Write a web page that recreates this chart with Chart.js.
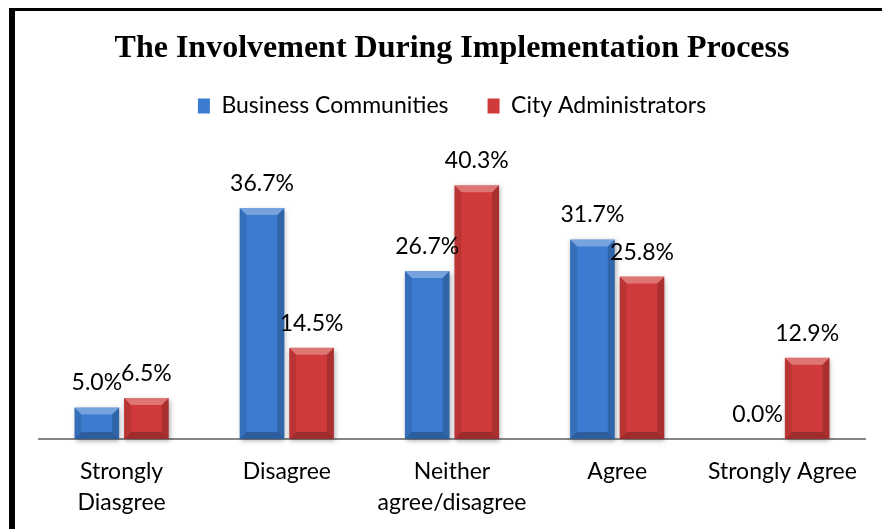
<!DOCTYPE html>
<html>
<head>
<meta charset="utf-8">
<script src="https://cdn.jsdelivr.net/npm/chart.js@4.4.1/dist/chart.umd.min.js"></script>
<style>
  html, body { margin: 0; padding: 0; background: #ffffff; }
  #wrap { width: 882px; height: 529px; position: relative; }
</style>
</head>
<body>
<div id="wrap"><canvas id="chart" width="882" height="529"></canvas></div>
<script>
// Survey answers: share of respondents (%) per answer category
const categories = [['Strongly', 'Diasgree'], 'Disagree', ['Neither', 'agree/disagree'], 'Agree', 'Strongly Agree'];
const seriesNames = ['Business Communities', 'City Administrators'];
const businessCommunities = [5.0, 36.7, 26.7, 31.7, 0.0];
const cityAdministrators = [6.5, 14.5, 40.3, 25.8, 12.9];
const chartTitle = 'The Involvement During Implementation Process';

const LABEL_FONT = { family: 'Lato, "Open Sans", sans-serif', size: 23 };

function fillPoly(ctx, pts, color) {
  ctx.beginPath();
  ctx.moveTo(pts[0][0], pts[0][1]);
  for (let i = 1; i < pts.length; i++) ctx.lineTo(pts[i][0], pts[i][1]);
  ctx.closePath();
  ctx.fillStyle = color;
  ctx.fill();
}

// Frame lines along the top and left edge of the figure
const framePlugin = {
  id: 'frame',
  beforeDraw(chart) {
    const ctx = chart.ctx;
    ctx.save();
    ctx.fillStyle = '#000000';
    ctx.fillRect(9, 8, chart.width - 9, 3);
    ctx.fillRect(9, 8, 6, chart.height - 8);
    ctx.restore();
  }
};

// Soft drop shadow under the bars plus a bevelled edge on each bar
const bevelPlugin = {
  id: 'bevel',
  beforeDatasetDraw(chart) {
    const ctx = chart.ctx;
    ctx.save();
    ctx.shadowColor = 'rgba(0,0,0,0.35)';
    ctx.shadowBlur = 5;
    ctx.shadowOffsetX = 1;
    ctx.shadowOffsetY = 2;
  },
  afterDatasetDraw(chart, args) {
    const ctx = chart.ctx;
    ctx.restore();
    ctx.save();
    args.meta.data.forEach(bar => {
      const p = bar.getProps(['x', 'y', 'base', 'width'], true);
      const L = p.x - p.width / 2, R = p.x + p.width / 2;
      const T = Math.min(p.y, p.base), B = Math.max(p.y, p.base);
      const h = B - T;
      if (h < 2) return;
      const b = Math.min(7, h / 2, p.width / 2);
      fillPoly(ctx, [[L, T], [R, T], [R - b, T + b], [L + b, T + b]], 'rgba(255,255,255,0.30)');
      fillPoly(ctx, [[L, T], [L + b, T + b], [L + b, B - b], [L, B]], 'rgba(0,0,0,0.10)');
      fillPoly(ctx, [[R, T], [R - b, T + b], [R - b, B - b], [R, B]], 'rgba(0,0,0,0.18)');
      fillPoly(ctx, [[L, B], [L + b, B - b], [R - b, B - b], [R, B]], 'rgba(0,0,0,0.24)');
    });
    ctx.restore();
  }
};

// Percentage value written above every bar
const valueLabelPlugin = {
  id: 'valueLabels',
  afterDatasetsDraw(chart) {
    const ctx = chart.ctx;
    ctx.save();
    ctx.font = `${LABEL_FONT.size}px ${LABEL_FONT.family}`;
    ctx.fillStyle = '#000000';
    ctx.textAlign = 'center';
    ctx.textBaseline = 'alphabetic';
    chart.data.datasets.forEach((ds, di) => {
      const meta = chart.getDatasetMeta(di);
      meta.data.forEach((bar, i) => {
        const v = ds.data[i];
        const p = bar.getProps(['x', 'y'], true);
        ctx.fillText(v.toFixed(1) + '%', p.x, p.y - 17);
      });
    });
    ctx.restore();
  }
};

new Chart(document.getElementById('chart'), {
  type: 'bar',
  data: {
    labels: categories,
    datasets: [
      {
        label: seriesNames[0],
        data: businessCommunities,
        backgroundColor: '#3b7cd0',
        borderWidth: 0,
        clip: false,
        barPercentage: 0.9,
        categoryPercentage: 0.6
      },
      {
        label: seriesNames[1],
        data: cityAdministrators,
        backgroundColor: '#d03a3a',
        borderWidth: 0,
        clip: false,
        barPercentage: 0.9,
        categoryPercentage: 0.6
      }
    ]
  },
  options: {
    responsive: false,
    animation: false,
    layout: { padding: { top: 10, left: 39, right: 17, bottom: -6 } },
    plugins: {
      title: {
        display: true,
        text: chartTitle,
        color: '#000000',
        font: { family: '"Liberation Serif", "Times New Roman", serif', size: 32, weight: 'bold', lineHeight: 1.2 },
        padding: { top: 20, bottom: -13 }
      },
      legend: {
        display: true,
        position: 'top',
        labels: {
          color: '#000000',
          font: LABEL_FONT,
          boxWidth: 12,
          boxHeight: 15,
          padding: 39
        }
      },
      tooltip: { enabled: false }
    },
    scales: {
      x: {
        grid: { display: false, drawTicks: false },
        border: { display: true, color: '#868686', width: 2 },
        ticks: {
          color: '#000000',
          font: { family: LABEL_FONT.family, size: 23, lineHeight: 1.35 },
          padding: 17,
          maxRotation: 0,
          autoSkip: false
        }
      },
      y: {
        display: false,
        min: 0,
        max: 49.5
      }
    }
  },
  plugins: [framePlugin, bevelPlugin, valueLabelPlugin]
});
</script>
</body>
</html>
